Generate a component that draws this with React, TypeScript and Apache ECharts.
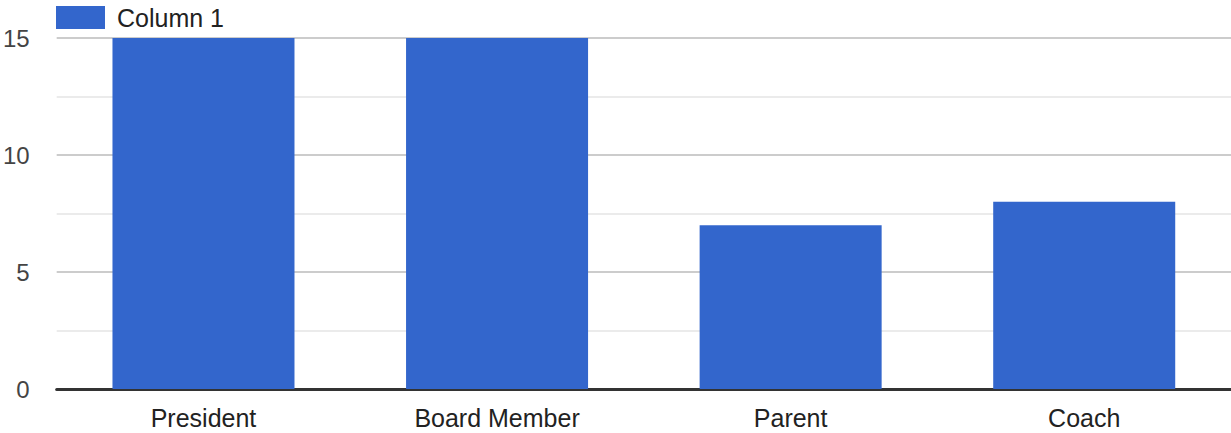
import React, { useEffect, useRef } from "react";
import * as echarts from "echarts";

const categories = ["President", "Board Member", "Parent", "Coach"];
const column1 = [15, 15, 7, 8];
const seriesName = "Column 1";

export default function App() {
  const ref = useRef<HTMLDivElement>(null);
  useEffect(() => {
    if (!ref.current) return;
    const chart = echarts.init(ref.current, undefined, { renderer: "svg" });
    const font = "Arial, 'Liberation Sans', sans-serif";
    chart.setOption({
      animation: false,
      textStyle: { fontFamily: font },
      legend: {
        show: true,
        left: 51,
        top: 0,
        itemWidth: 49,
        itemHeight: 23,
        icon: "rect",
        data: [seriesName],
        textStyle: { fontSize: 25, color: "#222", fontFamily: font, padding: [0, 0, 0, 7] },
      },
      grid: { left: 55, right: 0, top: 38, bottom: 44, containLabel: false },
      xAxis: {
        type: "category",
        data: categories,
        axisLine: { show: true, lineStyle: { color: "#333", width: 3 } },
        axisTick: { show: false },
        axisLabel: { fontSize: 25, color: "#222", margin: 16, fontFamily: font },
      },
      yAxis: {
        type: "value",
        min: 0,
        max: 15,
        interval: 5,
        axisLine: { show: false },
        axisTick: { show: false },
        axisLabel: { fontSize: 24, color: "#444", margin: 27, fontFamily: font },
        splitLine: { show: true, lineStyle: { color: "#cccccc", width: 2 } },
        minorTick: { show: false, splitNumber: 2 },
        minorSplitLine: { show: true, lineStyle: { color: "#ebebeb", width: 2 } },
      },
      series: [
        {
          name: seriesName,
          type: "bar",
          data: column1,
          barCategoryGap: "38%",
          itemStyle: { color: "#3366cc" },
        },
      ],
    });
    return () => chart.dispose();
  }, []);
  return (
    <div
      ref={ref}
      style={{ position: "fixed", left: 0, top: 0, width: 1231, height: 433, background: "#fff" }}
    />
  );
}
